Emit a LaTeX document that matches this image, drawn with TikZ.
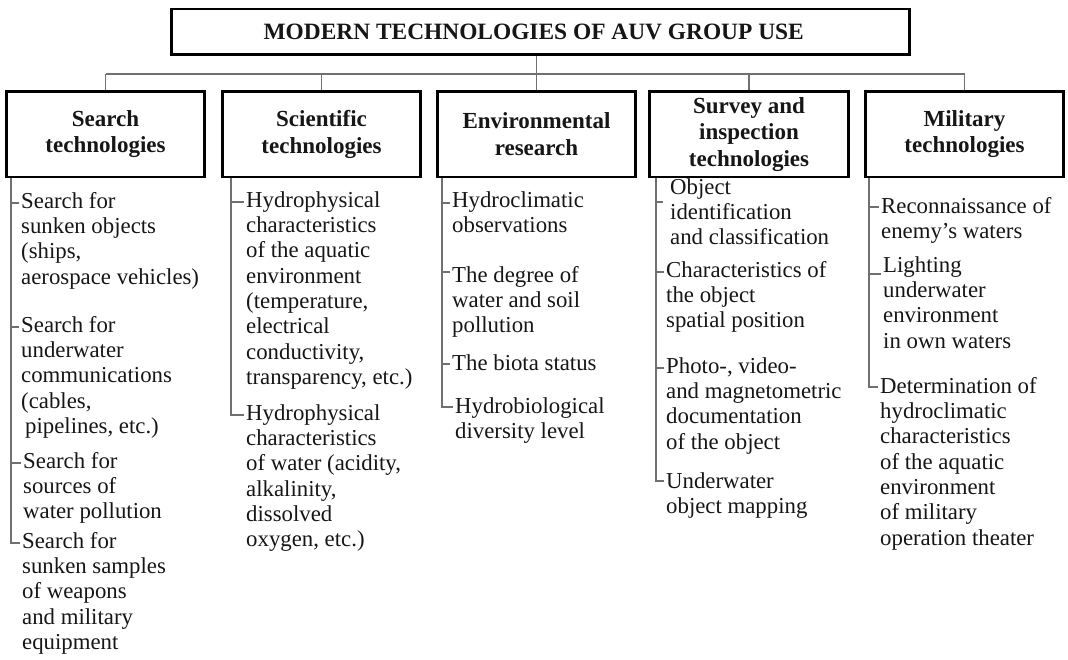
\documentclass[tikz,border=0pt]{standalone}
\usepackage{fontspec}
\setmainfont{Liberation Serif}
\definecolor{linegray}{RGB}{112,112,112}
\definecolor{ink}{RGB}{22,22,22}
\newcommand\itemfont{\fontsize{22.8}{25.3}\selectfont}
\newcommand\headfont{\fontsize{23}{26.5}\selectfont\bfseries}
\newcommand\titlefont{\fontsize{23.4}{27}\selectfont\bfseries}
\begin{document}
\begin{tikzpicture}[x=1pt,y=-1pt,
  link/.style={draw=linegray, line width=1.4pt},
  tick/.style={link, shorten >=2pt},
  titlebox/.style={draw=black, line width=2.6pt, fill=white, text=ink,
    font=\titlefont, minimum width=738pt, minimum height=45.6pt, inner sep=2pt},
  headbox/.style={draw=black, line width=2.6pt, fill=white, text=ink,
    align=center, font=\headfont, minimum width=198.5pt, minimum height=85.4pt,
    inner sep=2pt},
  item/.style={anchor=north west, yshift=17.71pt, inner sep=0pt, align=left,
    font=\itemfont, text=ink}]
\useasboundingbox (0,0) rectangle (1068,660);

% title and category boxes
\node[titlebox] (top) at (540.7,31.7) {MODERN TECHNOLOGIES OF AUV GROUP USE\hspace*{14pt}};
\node[headbox] (h1) at (105.5,134.2) {Search\\technologies};
\node[headbox] (h2) at (321.5,134.2) {Scientific\\technologies};
\node[headbox] (h3) at (536.5,134.2) {Environmental\\research};
\node[headbox] (h4) at (749,134.2) {Survey and\\inspection\\technologies};
\node[headbox] (h5) at (964.5,134.2) {Military\\technologies};

% tree connectors between title and categories
\coordinate (bar) at (0,74);
\draw[link] (h3.north |- top.south) -- (h3.north);
\draw[link] (h1.north |- bar) -- (h5.north |- bar);
\foreach \h in {h1,h2,h4,h5} \draw[link] (\h.north |- bar) -- (\h.north);

% ---- search technologies
\node[item] (i11) at (21,208) {\strut Search for\\sunken objects\\(ships,\\aerospace vehicles)};
\node[item] (i12) at (21,332) {\strut Search for\\underwater\\communications\\(cables,\\\hspace*{4pt}pipelines, etc.)};
\node[item] (i13) at (23,468) {\strut Search for\\sources of\\water pollution};
\node[item] (i14) at (22,548) {\strut Search for\\sunken samples\\of weapons\\and military\\equipment};
\coordinate (t11) at (11,203);
\coordinate (t12) at (11,327);
\coordinate (t13) at (11,463);
\coordinate (t14) at (11,543);
\draw[tick] (h1.south -| t11) -- (t14) -- (t14 -| i14.west);
\foreach \k in {1,2,3} \draw[tick] (t1\k) -- (t1\k -| i1\k.west);

% ---- scientific technologies
\node[item] (i21) at (246,207) {\strut Hydrophysical\\characteristics\\of the aquatic\\environment\\(temperature,\\electrical\\conductivity,\\transparency, etc.)};
\node[item] (i22) at (246,420) {\strut Hydrophysical\\characteristics\\of water (acidity,\\alkalinity,\\dissolved\\oxygen, etc.)};
\coordinate (t21) at (231,202);
\coordinate (t22) at (231,415);
\draw[tick] (h2.south -| t21) -- (t22) -- (t22 -| i22.west);
\draw[tick] (t21) -- (t21 -| i21.west);

% ---- environmental research
\node[item] (i31) at (452,207.5) {\strut Hydroclimatic\\observations};
\node[item] (i32) at (452,282) {\strut The degree of\\water and soil\\pollution};
\node[item] (i33) at (452,370) {\strut The biota status};
\node[item] (i34) at (455,413) {\strut Hydrobiological\\diversity level};
\coordinate (t31) at (442,203);
\coordinate (t32) at (442,272);
\coordinate (t33) at (442,364);
\coordinate (t34) at (442,407);
\draw[tick] (h3.south -| t31) -- (t34) -- (t34 -| i34.west);
\foreach \k in {1,2,3} \draw[tick] (t3\k) -- (t3\k -| i3\k.west);

% ---- survey and inspection technologies
\node[item] (i41) at (670,194) {\strut Object\\identification\\and classification};
\node[item] (i42) at (666,277) {\strut Characteristics of\\the object\\spatial position};
\node[item] (i43) at (666,373) {\strut Photo-, video-\\and magnetometric\\documentation\\of the object};
\node[item] (i44) at (666,488) {\strut Underwater\\object mapping};
\coordinate (t41) at (656,202);
\coordinate (t42) at (656,272);
\coordinate (t43) at (656,368);
\coordinate (t44) at (656,481);
\draw[tick] (h4.south -| t41) -- (t44) -- (t44 -| i44.west);
\draw[link, shorten >=7pt] (t41) -- (t41 -| i41.west);
\foreach \k in {2,3} \draw[tick] (t4\k) -- (t4\k -| i4\k.west);

% ---- military technologies
\node[item] (i51) at (881,213) {\strut Reconnaissance of\\enemy's waters};
\node[item] (i52) at (883,272) {\strut Lighting\\underwater\\environment\\in own waters};
\node[item] (i53) at (880,393) {\strut Determination of\\hydroclimatic\\characteristics\\of the aquatic\\environment\\of military\\operation theater};
\coordinate (t51) at (869,207);
\coordinate (t52) at (869,274);
\coordinate (t53) at (869,387);
\draw[tick] (h5.south -| t51) -- (t53) -- (t53 -| i53.west);
\foreach \k in {1,2} \draw[tick] (t5\k) -- (t5\k -| i5\k.west);
\end{tikzpicture}
\end{document}
